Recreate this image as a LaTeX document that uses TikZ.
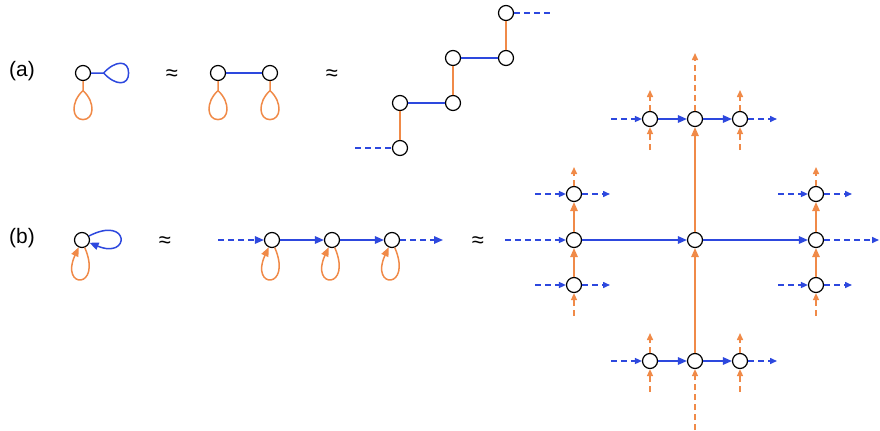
\documentclass[tikz,border=0pt]{standalone}
\usepackage{fontspec}
\setmainfont{Liberation Sans}
\usetikzlibrary{arrows.meta}
\definecolor{eblue}{RGB}{45,72,222}
\definecolor{eorange}{RGB}{240,138,72}
\tikzset{
  vtx/.style={circle,draw=black,fill=white,line width=1.2bp,minimum size=15bp,inner sep=0pt},
  bl/.style={draw=eblue,line width=1.5bp},
  og/.style={draw=eorange,line width=1.5bp},
  dsh/.style={dash pattern=on 6bp off 4bp},
  bigtip/.style={-{Triangle[length=9bp,width=7.5bp]}},
  smtip/.style={-{Triangle[length=7bp,width=6bp]}},
  lab/.style={font=\fontsize{21}{24}\selectfont},
  apx/.style={font=\fontsize{22}{24}\selectfont}
}
\begin{document}
\begin{tikzpicture}[x=1bp,y=1bp]
\useasboundingbox (0,0) rectangle (880,430);
% labels
\node[lab] (la) at (22,359) {(a)};
\node[lab] (lb) at (22,192) {(b)};
\node[apx] (ap1) at (172,355) {≈};
\node[apx] (ap2) at (332,355) {≈};
\node[apx] (ap3) at (165,188) {≈};
\node[apx] (ap4) at (478,188) {≈};
% (a) nodes
\node[vtx] (a1) at (83,357) {};
\node[vtx] (a2) at (218,357) {};
\node[vtx] (a3) at (270,357) {};
% staircase
\node[vtx] (s1) at (400,282) {};
\node[vtx] (s2) at (400,327) {};
\node[vtx] (s3) at (453,327) {};
\node[vtx] (s4) at (453,372) {};
\node[vtx] (s5) at (506,372) {};
\node[vtx] (s6) at (506,417) {};
\coordinate (sl) at (355,282);
\coordinate (sr) at (552,417);
% (b) nodes
\node[vtx] (p) at (82,190) {};
\node[vtx] (q1) at (272,190) {};
\node[vtx] (q2) at (332,190) {};
\node[vtx] (q3) at (392,190) {};
\coordinate (ql) at (218,190);
\coordinate (qr) at (443,190);
% grid nodes
\node[vtx] (c0) at (574,190) {};
\node[vtx] (c1) at (695,190) {};
\node[vtx] (c2) at (816,190) {};
\node[vtx] (u0) at (574,236) {};
\node[vtx] (d0) at (574,145) {};
\node[vtx] (u2) at (816,236) {};
\node[vtx] (d2) at (816,145) {};
\node[vtx] (t0) at (650,311) {};
\node[vtx] (t1) at (695,311) {};
\node[vtx] (t2) at (740,311) {};
\node[vtx] (b0) at (650,69) {};
\node[vtx] (b1) at (695,69) {};
\node[vtx] (b2) at (740,69) {};
% free ends
\coordinate (cl) at (505,190);
\coordinate (cr) at (879,190);
\coordinate (u0l) at (535,236);
\coordinate (u0r) at (610,236);
\coordinate (u0u) at (574,263);
\coordinate (d0l) at (535,145);
\coordinate (d0r) at (610,145);
\coordinate (d0d) at (574,114);
\coordinate (u2l) at (778,236);
\coordinate (u2r) at (852,236);
\coordinate (u2u) at (816,263);
\coordinate (d2l) at (778,145);
\coordinate (d2r) at (852,145);
\coordinate (d2d) at (816,114);
\coordinate (t0l) at (611,311);
\coordinate (t0u) at (650,340);
\coordinate (t0d) at (650,280);
\coordinate (t1u) at (695,377);
\coordinate (t2r) at (777,311);
\coordinate (t2u) at (740,340);
\coordinate (t2d) at (740,280);
\coordinate (b0l) at (611,69);
\coordinate (b0u) at (650,97);
\coordinate (b0d) at (650,38);
\coordinate (b1d) at (695,0);
\coordinate (b2r) at (777,69);
\coordinate (b2u) at (740,97);
\coordinate (b2d) at (740,38);

% (a) edges
\draw[bl] (a1.east) -- ++(12.5,0) .. controls +(12,13) and +(0,13) .. ++(25,0)
      .. controls +(0,-13) and +(12,-13) .. ++(-25,0);
\foreach \n in {a1,a2,a3}{
  \draw[og] (\n.south) -- ++(0,-9.5) .. controls +(-13,-12) and +(-11,0) .. ++(0,-29)
      .. controls +(11,0) and +(13,-12) .. ++(0,29);
}
\draw[bl] (a2) -- (a3);
% staircase
\draw[bl,dsh] (sl) -- (s1);
\draw[og] (s1) -- (s2);
\draw[bl] (s2) -- (s3);
\draw[og] (s3) -- (s4);
\draw[bl] (s4) -- (s5);
\draw[og] (s5) -- (s6);
\draw[bl,dsh] (s6) -- (sr);
% (b) loops
\draw[bl,bigtip] (p.30) .. controls +(41,21) and +(41,-17) .. (p.-20);
\foreach \n in {p,q1,q2,q3}{
  \draw[og,bigtip] (\n.-70) .. controls +(18,-42) and +(-19,-42) .. (\n.-115);
}
\draw[bl,dsh,bigtip] (ql) -- (q1);
\draw[bl,bigtip] (q1) -- (q2);
\draw[bl,bigtip] (q2) -- (q3);
\draw[bl,dsh,bigtip] (q3) -- (qr);
% grid solid
\draw[bl,bigtip] (c0) -- (c1);
\draw[bl,bigtip] (c1) -- (c2);
\draw[bl,bigtip] (t0) -- (t1);
\draw[bl,bigtip] (t1) -- (t2);
\draw[bl,bigtip] (b0) -- (b1);
\draw[bl,bigtip] (b1) -- (b2);
\draw[og,bigtip] (d0) -- (c0);
\draw[og,bigtip] (c0) -- (u0);
\draw[og,bigtip] (d2) -- (c2);
\draw[og,bigtip] (c2) -- (u2);
\draw[og,bigtip] (b1) -- (c1);
\draw[og,bigtip] (c1) -- (t1);
% grid dashed blue
\draw[bl,dsh,smtip] (cl) -- (c0);
\draw[bl,dsh,smtip] (c2) -- (cr);
\draw[bl,dsh,smtip] (u0l) -- (u0);
\draw[bl,dsh,smtip] (u0) -- (u0r);
\draw[bl,dsh,smtip] (d0l) -- (d0);
\draw[bl,dsh,smtip] (d0) -- (d0r);
\draw[bl,dsh,smtip] (u2l) -- (u2);
\draw[bl,dsh,smtip] (u2) -- (u2r);
\draw[bl,dsh,smtip] (d2l) -- (d2);
\draw[bl,dsh,smtip] (d2) -- (d2r);
\draw[bl,dsh,smtip] (t0l) -- (t0);
\draw[bl,dsh,smtip] (t2) -- (t2r);
\draw[bl,dsh,smtip] (b0l) -- (b0);
\draw[bl,dsh,smtip] (b2) -- (b2r);
% grid dashed orange
\draw[og,dsh,smtip] (u0) -- (u0u);
\draw[og,dsh,smtip] (d0d) -- (d0);
\draw[og,dsh,smtip] (u2) -- (u2u);
\draw[og,dsh,smtip] (d2d) -- (d2);
\draw[og,dsh,smtip] (t0) -- (t0u);
\draw[og,dsh,smtip] (t0d) -- (t0);
\draw[og,dsh,smtip] (t1) -- (t1u);
\draw[og,dsh,smtip] (t2) -- (t2u);
\draw[og,dsh,smtip] (t2d) -- (t2);
\draw[og,dsh,smtip] (b0) -- (b0u);
\draw[og,dsh,smtip] (b0d) -- (b0);
\draw[og,dsh,smtip] (b1d) -- (b1);
\draw[og,dsh,smtip] (b2) -- (b2u);
\draw[og,dsh,smtip] (b2d) -- (b2);
\end{tikzpicture}
\end{document}
